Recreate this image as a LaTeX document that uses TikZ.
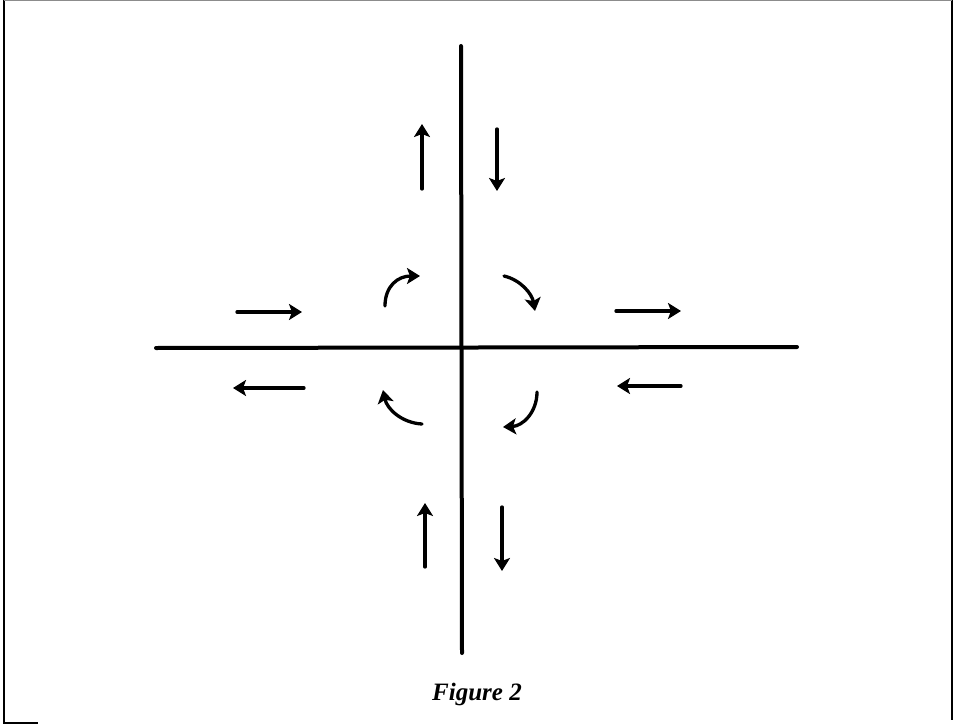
\documentclass[tikz,border=0pt]{standalone}
\usepackage{fontspec}
\setmainfont{Liberation Serif}
\usetikzlibrary{arrows.meta, positioning}
\tikzset{
  road/.style={line width=4pt, color=black, line cap=round},
  flow/.style={line width=3.3pt, color=black, line cap=round,
               -{Stealth[length=13pt, width=16pt, inset=3pt]}},
  marco/.style={line width=1.6pt, color=black},
  titulo/.style={font=\fontsize{25}{30}\selectfont\bfseries\itshape, inner sep=0pt, anchor=base}
}
\begin{document}
\begin{tikzpicture}[x=1pt, y=-1pt]
  \useasboundingbox (0,0) rectangle (956,725);
  % marco escaneado
  \draw [marco] (4,0) -- (4,723) -- (38,723);
  \draw [marco] (952,0) -- (952,720);
  \draw [line width=1pt, black!45] (4,1) -- (952,1);
  % calles
  \coordinate (vn) at (461,46);  \coordinate (vs) at (462,653);
  \coordinate (ho) at (156,348); \coordinate (he) at (797,347);
  \draw [road] (vn) -- (vs);
  \draw [road] (ho) -- (he);
  % flujos rectos
  \draw [flow] (422,189) -- (422,124);
  \draw [flow] (497,129) -- (497,191);
  \draw [flow] (425,567) -- (425,503);
  \draw [flow] (502,507) -- (502,571);
  \draw [flow] (237,312) -- (302,312);
  \draw [flow] (304,388) -- (233,388);
  \draw [flow] (616,311) -- (681,311);
  \draw [flow] (681,386) -- (617,386);
  % giros
  \draw [flow] (385,306) .. controls (385,286) and (398,276) .. (420,276);
  \draw [flow] (504,276) .. controls (521,280) and (532,294) .. (535,311);
  \draw [flow] (422,424) .. controls (402,423) and (387,409) .. (383,390);
  \draw [flow] (537,392) .. controls (537,412) and (523,426) .. (503,427);
  % pie
  \node (pie) [titulo] at (477,700) {Figure 2};
\end{tikzpicture}
\end{document}
